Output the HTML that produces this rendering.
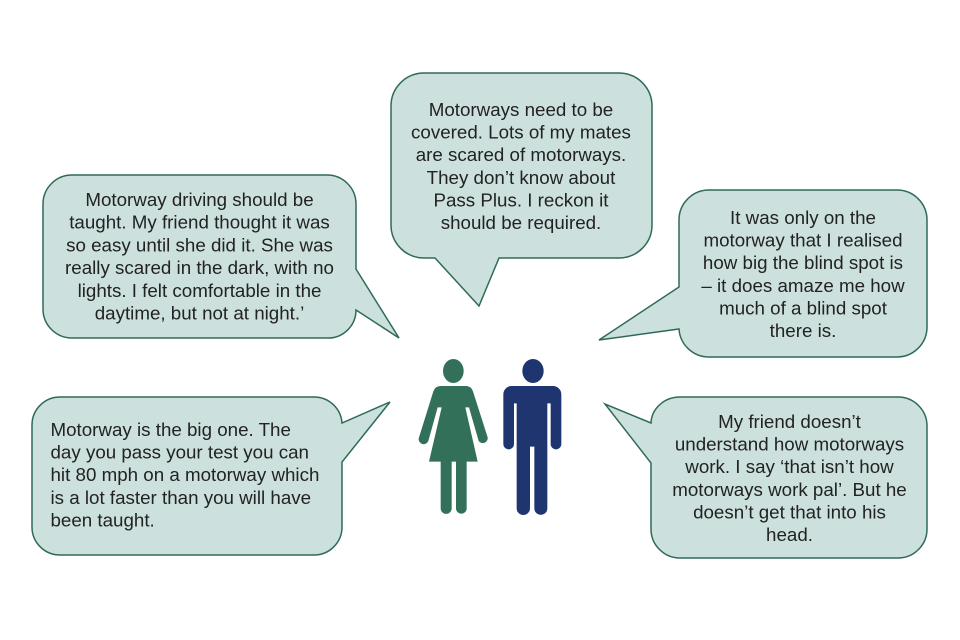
<!DOCTYPE html>
<html lang="en">
<head>
<meta charset="utf-8">
<title>Motorway driving quotes</title>
<style>
html,body{margin:0;padding:0;background:#fff;width:960px;height:640px;overflow:hidden}
svg{display:block;filter:blur(0.35px)}
text{font-family:"Liberation Sans",Arial,sans-serif;font-size:18.75px;fill:#222}
.b{fill:#cce1dd;stroke:#2f6a58;stroke-width:1.5;stroke-linejoin:miter}
.c text{text-anchor:middle}
</style>
</head>
<body>
<svg width="960" height="640" viewBox="0 0 960 640" xmlns="http://www.w3.org/2000/svg">
<!-- left upper -->
<path class="b" d="M72 175H327A29 29 0 0 1 356 204V269L399 338L356 310A28 28 0 0 1 327 338H72A29 29 0 0 1 43 309V204A29 29 0 0 1 72 175Z"/>
<!-- top -->
<path class="b" d="M424 73H619A33 33 0 0 1 652 106V225A33 33 0 0 1 619 258H499L479 306L435 258H424A33 33 0 0 1 391 225V106A33 33 0 0 1 424 73Z"/>
<!-- right -->
<path class="b" d="M709 190H897A30 30 0 0 1 927 220V327A30 30 0 0 1 897 357H709A30 30 0 0 1 679 329L599 340L679 287V220A30 30 0 0 1 709 190Z"/>
<!-- lower right -->
<path class="b" d="M680 397H898A29 29 0 0 1 927 426V529A29 29 0 0 1 898 558H680A29 29 0 0 1 651 529V463L605 404L651 423A29 27 0 0 1 680 397Z"/>
<!-- lower left -->
<path class="b" d="M60 397H314A28 28 0 0 1 342 423L390 402L342 462V527A28 28 0 0 1 314 555H60A28 28 0 0 1 32 527V425A28 28 0 0 1 60 397Z"/>

<g class="c">
<text x="199.5" y="206">Motorway driving should be</text>
<text x="199.5" y="228.7">taught. My friend thought it was</text>
<text x="199.5" y="251.4">so easy until she did it. She was</text>
<text x="199.5" y="274.1">really scared in the dark, with no</text>
<text x="199.5" y="296.8">lights. I felt comfortable in the</text>
<text x="199.5" y="319.5">daytime, but not at night.’</text>

<text x="521" y="116">Motorways need to be</text>
<text x="521" y="138.6">covered. Lots of my mates</text>
<text x="521" y="161.2">are scared of motorways.</text>
<text x="521" y="183.8">They don’t know about</text>
<text x="521" y="206.4">Pass Plus. I reckon it</text>
<text x="521" y="229">should be required.</text>

<text x="803" y="224">It was only on the</text>
<text x="803" y="246.6">motorway that I realised</text>
<text x="803" y="269.2">how big the blind spot is</text>
<text x="803" y="291.8">– it does amaze me how</text>
<text x="803" y="314.4">much of a blind spot</text>
<text x="803" y="337">there is.</text>

<text x="789.5" y="428">My friend doesn’t</text>
<text x="789.5" y="450.6">understand how motorways</text>
<text x="789.5" y="473.2">work. I say ‘that isn’t how</text>
<text x="789.5" y="495.8">motorways work pal’. But he</text>
<text x="789.5" y="518.4">doesn’t get that into his</text>
<text x="789.5" y="541">head.</text>
</g>

<text x="50.5" y="436">Motorway is the big one. The</text>
<text x="50.5" y="458.6">day you pass your test you can</text>
<text x="50.5" y="481.2">hit 80 mph on a motorway which</text>
<text x="50.5" y="503.8">is a lot faster than you will have</text>
<text x="50.5" y="526.4">been taught.</text>

<!-- figures -->
<g transform="translate(400 340) scale(0.33333)">
<g fill="#33705a">
<ellipse cx="160" cy="93" rx="31" ry="36"/>
<path d="M122 138H198Q213 138 219 154L263 292A15 15 0 0 1 236 303L207 202H196L233 365H200V505A16 16 0 0 1 168 505V365H155V505A16.500 16.500 0 0 1 122 505V365H87L125 202H113L85 303A15 15 0 0 1 57 292L100 154Q106 138 122 138Z"/>
</g>
<g fill="#1f356f">
<ellipse cx="399" cy="93" rx="32" ry="36"/>
<path d="M335 138H459A25 25 0 0 1 484 163V312A16 16 0 0 1 452 312V190H442V505A19.500 19.500 0 0 1 403 505V320H390V505A20 20 0 0 1 350 505V190H342V312A16 16 0 0 1 310 312V163A25 25 0 0 1 335 138Z"/>
</g>
</g>
</svg>
</body>
</html>
